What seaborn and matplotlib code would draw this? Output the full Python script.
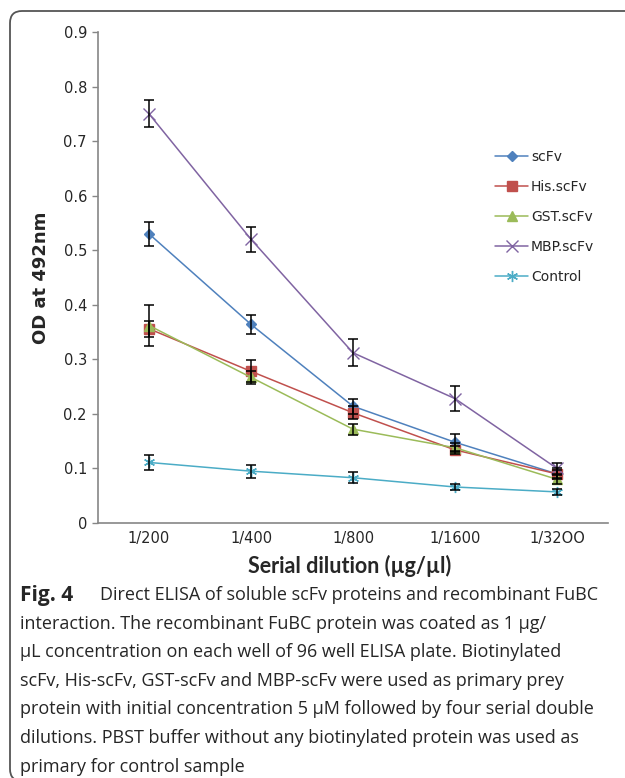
import numpy as np
import pandas as pd
import seaborn as sns
import matplotlib.pyplot as plt
from matplotlib.patches import FancyBboxPatch

# Data (OD at 492nm, mean and error)
dilutions = ["1/200", "1/400", "1/800", "1/1600", "1/32OO"]
series_names = ["scFv", "His.scFv", "GST.scFv", "MBP.scFv", "Control"]

scfv = [0.530, 0.364, 0.214, 0.148, 0.090]
his_scfv = [0.356, 0.278, 0.202, 0.134, 0.090]
gst_scfv = [0.362, 0.267, 0.172, 0.138, 0.080]
mbp_scfv = [0.750, 0.520, 0.312, 0.228, 0.100]
control = [0.111, 0.095, 0.083, 0.066, 0.057]

scfv_err = [0.022, 0.017, 0.014, 0.016, 0.008]
his_err = [0.015, 0.020, 0.012, 0.008, 0.010]
gst_err = [0.038, 0.012, 0.010, 0.008, 0.008]
mbp_err = [0.025, 0.023, 0.025, 0.023, 0.010]
control_err = [0.014, 0.012, 0.010, 0.005, 0.005]

colors = ["#4F81BD", "#C0504D", "#9BBB59", "#8064A2", "#4BACC6"]
markers = ["D", "s", "^", "x", (6, 2, 0)]
msizes = [5, 7, 7.5, 8.5, 8]

caption_first = "Direct ELISA of soluble scFv proteins and recombinant FuBC"
caption_lines = [
    "interaction. The recombinant FuBC protein was coated as 1 \u00b5g/",
    "\u00b5L concentration on each well of 96 well ELISA plate. Biotinylated",
    "scFv, His-scFv, GST-scFv and MBP-scFv were used as primary prey",
    "protein with initial concentration 5 \u00b5M followed by four serial double",
    "dilutions. PBST buffer without any biotinylated protein was used as",
    "primary for control sample",
]

values = [scfv, his_scfv, gst_scfv, mbp_scfv, control]
errors = [scfv_err, his_err, gst_err, mbp_err, control_err]

# Long table for seaborn
x_pos = np.arange(len(dilutions))
df = pd.DataFrame({
    "x": np.tile(x_pos, len(series_names)),
    "od": np.concatenate(values),
    "err": np.concatenate(errors),
    "series": np.repeat(series_names, len(dilutions)),
})

sns.set_style("white")
plt.rcParams["font.family"] = ["DejaVu Sans"]

fig = plt.figure(figsize=(6.25, 7.78), dpi=100)
ax = fig.add_axes([98 / 625, 1 - 523 / 778, 510 / 625, 491 / 778])

for name, col, mk, ms in zip(series_names, colors, markers, msizes):
    sub = df[df["series"] == name]
    sns.lineplot(data=sub, x="x", y="od", color=col, marker=mk, markersize=ms,
                 markeredgecolor=col, markeredgewidth=1.0, linewidth=1.1,
                 label=name, ax=ax, zorder=2)
    ax.errorbar(sub["x"], sub["od"], yerr=sub["err"], fmt="none", ecolor="black",
                elinewidth=1.1, capsize=3.5, capthick=1.1, zorder=3)

ax.set_xlim(-0.5, len(dilutions) - 0.5)
ax.set_ylim(0, 0.9)
ax.set_yticks(np.arange(0, 0.91, 0.1))
ax.set_yticklabels(["0"] + [f"{v:.1f}" for v in np.arange(0.1, 0.91, 0.1)])
ax.set_xticks(x_pos)
ax.set_xticklabels(dilutions)
ax.tick_params(axis="y", length=4, width=1, color="#868686", labelsize=10.5, pad=4, left=True)
ax.tick_params(axis="x", length=0, labelsize=10.5, pad=6)
for s in ["top", "right"]:
    ax.spines[s].set_visible(False)
for s in ["left", "bottom"]:
    ax.spines[s].set_color("#868686")
    ax.spines[s].set_linewidth(1.2)

ax.set_xlabel("")
ax.set_ylabel("OD at 492nm", fontsize=13, fontweight="bold", labelpad=10)

leg = ax.legend(loc="upper left", bbox_to_anchor=((495 - 98) / 510, (523 - 150) / 491),
                frameon=False, fontsize=10, handlelength=2.4, handletextpad=0.2,
                labelspacing=1.15, borderaxespad=0, borderpad=0)

fig.text(350 / 625, 1 - 566 / 778, "Serial dilution (\u00b5g/\u00b5l)", fontsize=15.5,
         fontweight="bold", family="Lato", ha="center", va="center")

# Caption
cap_font = "Open Sans"
cap_size = 13
cap_top = 595
cap_step = 28.6
fig.text(20 / 625, 1 - cap_top / 778, "Fig. 4", fontsize=15, fontweight="bold",
         family="Open Sans", ha="left", va="center")
fig.text(100 / 625, 1 - cap_top / 778, caption_first,
         fontsize=cap_size, family=cap_font, ha="left", va="center")
for i, line in enumerate(caption_lines):
    fig.text(20 / 625, 1 - (cap_top + cap_step * (i + 1)) / 778, line, fontsize=cap_size,
             family=cap_font, ha="left", va="center")

# Frame around the figure panel
frame = FancyBboxPatch((0.10, -0.03), 6.4, 7.70, boxstyle="round,pad=0,rounding_size=0.12",
                       transform=fig.dpi_scale_trans, facecolor="none",
                       edgecolor="#555555", linewidth=1.3)
fig.patches.append(frame)

fig.savefig("out.png", dpi=100)
